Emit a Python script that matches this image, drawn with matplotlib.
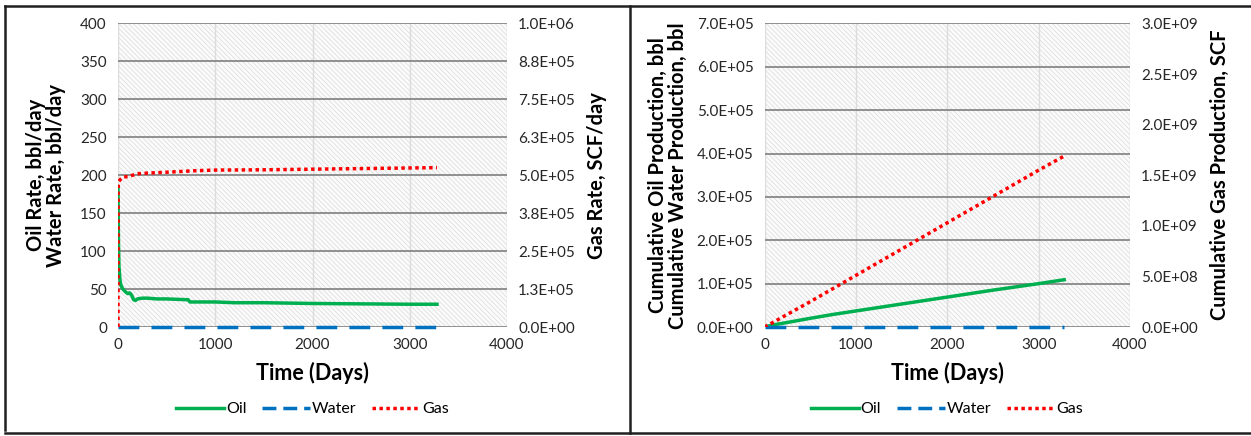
import matplotlib.pyplot as plt
from matplotlib.lines import Line2D

plt.rcParams['font.family'] = ['Lato', 'DejaVu Sans']
plt.rcParams['hatch.linewidth'] = 0.5
plt.rcParams['hatch.color'] = '#dadada'

# Rate data (left panel)
rate_days_oil = [0, 2, 5, 10, 20, 30, 50, 80, 100, 120, 140, 160, 180, 200, 250, 300,
                 400, 500, 600, 700, 720, 740, 800, 1000, 1200, 1500, 2000, 2500, 3000, 3280]
oil_rate = [185, 150, 110, 80, 62, 55, 50, 46, 44, 45, 42, 36, 35, 37, 38, 38,
            37, 37, 36.5, 36, 36, 33, 33, 33, 32, 32, 31, 30.5, 30, 30]
rate_days_gas = [0, 1, 5, 10, 20, 40, 60, 100, 150, 200, 300, 500, 800, 1000,
                 1500, 2000, 2500, 3000, 3280]
gas_rate = [0, 4.6e5, 4.7e5, 4.8e5, 4.85e5, 4.9e5, 4.95e5, 4.95e5, 5.0e5, 5.05e5, 5.07e5,
            5.1e5, 5.15e5, 5.17e5, 5.18e5, 5.2e5, 5.22e5, 5.24e5, 5.25e5]
water_days = [0, 3280]
water_rate = [0, 0]

# Cumulative data (right panel)
cum_days = [0, 100, 250, 500, 750, 1000, 1500, 2000, 2500, 3000, 3280]
cum_oil = [0, 5e3, 1.05e4, 2.0e4, 2.9e4, 3.7e4, 5.3e4, 6.9e4, 8.5e4, 1.0e5, 1.09e5]
cum_gas = [0, 4.9e7, 1.25e8, 2.5e8, 3.8e8, 5.1e8, 7.7e8, 1.03e9, 1.29e9, 1.55e9, 1.69e9]
cum_water = [0, 0]

rate_left_ticks = [0, 50, 100, 150, 200, 250, 300, 350, 400]
rate_right_ticks = [0, 1.25e5, 2.5e5, 3.75e5, 5e5, 6.25e5, 7.5e5, 8.75e5, 1e6]
rate_right_labels = ['0.0E+00', '1.3E+05', '2.5E+05', '3.8E+05', '5.0E+05',
                     '6.3E+05', '7.5E+05', '8.8E+05', '1.0E+06']
cum_left_ticks = [0, 1e5, 2e5, 3e5, 4e5, 5e5, 6e5, 7e5]
cum_left_labels = ['0.0E+00', '1.0E+05', '2.0E+05', '3.0E+05', '4.0E+05',
                   '5.0E+05', '6.0E+05', '7.0E+05']
cum_right_ticks = [0, 5e8, 1e9, 1.5e9, 2e9, 2.5e9, 3e9]
cum_right_labels = ['0.0E+00', '5.0E+08', '1.0E+09', '1.5E+09', '2.0E+09',
                    '2.5E+09', '3.0E+09']
x_ticks = [0, 1000, 2000, 3000, 4000]

GREEN = '#00b050'
BLUE = '#0070c0'
RED = '#ff0000'
TXT = '#262626'

fig = plt.figure(figsize=(12.51, 4.36), dpi=100)


def style_axes(ax, ax2):
    ax.set_xlim(0, 4000)
    ax.set_xticks(x_ticks)
    ax.patch.set_facecolor('#fbfbfb')
    ax.patch.set_hatch('\\\\\\\\\\\\\\')
    ax.patch.set_edgecolor('#dadada')
    for a in (ax, ax2):
        for s in a.spines.values():
            s.set_visible(False)
        a.tick_params(length=0, labelsize=11, colors=TXT, pad=8)
    ax.grid(axis='y', color='#7f7f7f', lw=1.2)
    ax.grid(axis='x', color='#dcdcdc', lw=1.0)
    ax.set_axisbelow(True)
    ax.set_xlabel('Time (Days)', fontsize=15.5, fontweight='bold', color='black', labelpad=7)


def add_legend(ax):
    handles = [Line2D([], [], color=GREEN, lw=2.5),
               Line2D([], [], color=BLUE, lw=2.5, ls=(0, (4, 2))),
               Line2D([], [], color=RED, lw=2.5, ls=(0, (1, 1)))]
    ax.legend(handles, ['Oil', 'Water', 'Gas'], loc='upper center',
              bbox_to_anchor=(0.5, -0.2), ncol=3, frameon=False, fontsize=11.5,
              handlelength=3.0, handletextpad=0.1, columnspacing=1.0)


# Left panel: rates
ax1 = fig.add_axes([118 / 1251, 1 - 327 / 436, 389 / 1251, 303.5 / 436])
ax1b = ax1.twinx()
style_axes(ax1, ax1b)
ax1.set_ylim(0, 400)
ax1.set_yticks(rate_left_ticks)
ax1b.set_ylim(0, 1e6)
ax1b.set_yticks(rate_right_ticks)
ax1b.set_yticklabels(rate_right_labels)
ax1.plot(rate_days_oil, oil_rate, color=GREEN, lw=2.5, zorder=3)
ax1.plot(water_days, water_rate, color=BLUE, lw=2.5, ls=(0, (6, 3.5)), zorder=3, clip_on=False)
ax1b.plot(rate_days_gas, gas_rate, color=RED, lw=2.5, ls=(0, (1, 1)), zorder=3)
ax1.set_ylabel('Oil Rate, bbl/day\nWater Rate, bbl/day', fontsize=14.5,
               fontweight='bold', color='black', labelpad=10, linespacing=1.0)
ax1b.set_ylabel('Gas Rate, SCF/day', fontsize=14.5, fontweight='bold',
                color='black', labelpad=9)
add_legend(ax1)

# Right panel: cumulative
ax2 = fig.add_axes([764.5 / 1251, 1 - 327 / 436, 365.5 / 1251, 303.5 / 436])
ax2b = ax2.twinx()
style_axes(ax2, ax2b)
ax2.set_ylim(0, 7e5)
ax2.set_yticks(cum_left_ticks)
ax2.set_yticklabels(cum_left_labels)
ax2b.set_ylim(0, 3e9)
ax2b.set_yticks(cum_right_ticks)
ax2b.set_yticklabels(cum_right_labels)
ax2.plot(cum_days, cum_oil, color=GREEN, lw=2.5, zorder=3)
ax2.plot(water_days, cum_water, color=BLUE, lw=2.5, ls=(0, (6, 3.5)), zorder=3, clip_on=False)
ax2b.plot(cum_days, cum_gas, color=RED, lw=2.5, ls=(0, (1, 1)), zorder=3)
ax2.set_ylabel('Cumulative Oil Production, bbl\nCumulative Water Production, bbl',
               fontsize=14.5, fontweight='bold', color='black', labelpad=6, linespacing=1.0)
ax2b.set_ylabel('Cumulative Gas Production, SCF', fontsize=14.5, fontweight='bold',
                color='black', labelpad=9)
add_legend(ax2)

# panel borders
for xs, ys in [([5 / 1251, 5 / 1251], [6 / 436, 430 / 436]),
               ([630 / 1251, 630 / 1251], [3 / 436, 430 / 436]),
               ([5 / 1251, 1], [430 / 436, 430 / 436]),
               ([5 / 1251, 1], [3 / 436, 3 / 436])]:
    fig.add_artist(Line2D(xs, ys, color='#202020', lw=1.8))

fig.savefig('out.png', dpi=100)
